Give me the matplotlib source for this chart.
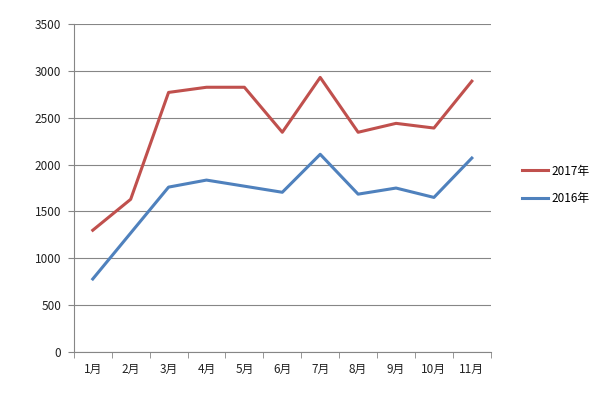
import matplotlib
matplotlib.use("Agg")
import matplotlib.pyplot as plt
from matplotlib.ticker import FixedLocator, NullFormatter

plt.rcParams['font.family'] = ['Noto Sans CJK SC', 'DejaVu Sans']

months = ['1月', '2月', '3月', '4月', '5月', '6月', '7月', '8月', '9月', '10月', '11月']
sales_2017 = [1300, 1630, 2770, 2825, 2825, 2345, 2930, 2345, 2440, 2390, 2890]
sales_2016 = [780, 1270, 1760, 1835, 1770, 1705, 2110, 1685, 1750, 1650, 2070]

fig = plt.figure(figsize=(6, 3.93), dpi=100)
ax = fig.add_axes([0.123, 0.104, 0.695, 0.835])

x = list(range(len(months)))
ax.plot(x, sales_2017, color='#C0504D', linewidth=2.2, label='2017年')
ax.plot(x, sales_2016, color='#4F81BD', linewidth=2.2, label='2016年')

ax.set_xlim(-0.5, len(months) - 0.5)
ax.set_ylim(0, 3500)
ax.set_yticks(range(0, 3501, 500))
ax.set_xticks(x)
ax.set_xticklabels(months)
# category boundary ticks on the x axis
ax.xaxis.set_minor_locator(FixedLocator([i - 0.5 for i in range(len(months) + 1)]))
ax.xaxis.set_minor_formatter(NullFormatter())
ax.tick_params(axis='x', which='major', length=0, pad=8, labelsize=8.5, labelcolor='#222222')
ax.tick_params(axis='x', which='minor', length=4, color='#868686', direction='out')
ax.tick_params(axis='y', length=4, color='#868686', labelsize=8.5, pad=5, labelcolor='#222222')

ax.yaxis.grid(True, color='#868686', linewidth=0.8)
ax.set_axisbelow(True)
for s in ['top', 'right']:
    ax.spines[s].set_visible(False)
ax.spines['left'].set_color('#868686')
ax.spines['bottom'].set_color('#868686')

fig.legend(loc='center left', bbox_to_anchor=(0.852, 0.53), frameon=False,
           fontsize=8.5, handlelength=2.2, handletextpad=0.3, labelspacing=1.2)

fig.savefig('out.png', dpi=100)
